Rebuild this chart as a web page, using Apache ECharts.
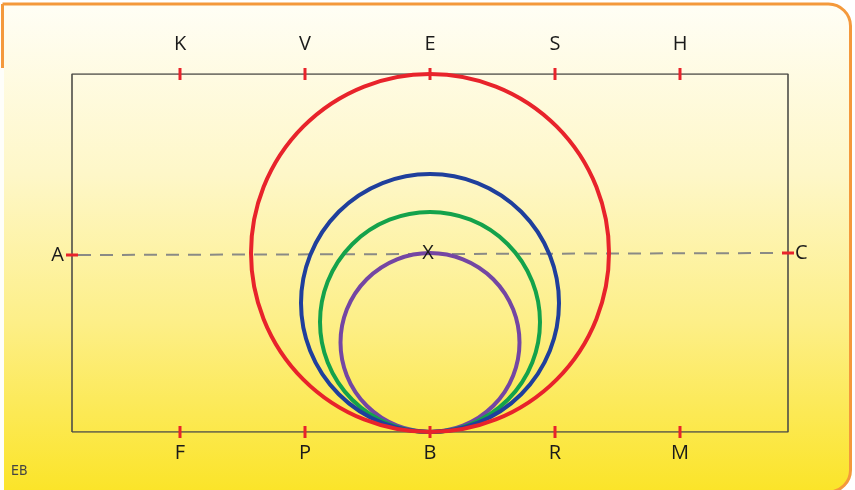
<!DOCTYPE html>
<html>
<head>
<meta charset="utf-8">
<script src="https://cdn.jsdelivr.net/npm/echarts@6/dist/echarts.min.js"></script>
<style>html,body{margin:0;padding:0;background:#fff}#c{width:855px;height:490px}</style>
</head>
<body>
<div id="c"></div>
<script>
// ---- data (geometry units: rectangle is 716 x 358) ----
const rectX = [-358, 358];
const rectY = [0, 358];
const tickX = [-250, -125, 0, 125, 250];
const topLabels = ['K', 'V', 'E', 'S', 'H'];
const bottomLabels = ['F', 'P', 'B', 'R', 'M'];
const circleNames = ['purple', 'green', 'blue', 'red'];
const circleRadius = [89.5, 110, 129, 179];
const circleColors = ['#7446a3', '#14a24b', '#1f3f9c', '#e8232b'];
const sideLabels = ['A', 'C'];
const sidePointY = [177, 179];
const centerLabel = 'X';
const centerPoint = [0, 179];

const FONT = '"Open Sans", "DejaVu Sans", sans-serif';
const RED = '#e8232b';

const chart = echarts.init(document.getElementById('c'), null, {renderer: 'canvas'});

const rectData = [
  [rectX[0], rectY[0]], [rectX[1], rectY[0]], [rectX[1], rectY[1]],
  [rectX[0], rectY[1]], [rectX[0], rectY[0]]
];

const tickData = [];
tickX.forEach((x, i) => {
  tickData.push([x, rectY[1], topLabels[i], 'top']);
  tickData.push([x, rectY[0], bottomLabels[i], 'bottom']);
});
const sideData = [
  [rectX[0], sidePointY[0], sideLabels[0], 'left'],
  [rectX[1], sidePointY[1], sideLabels[1], 'right']
];

const circleSeries = circleNames.map((n, i) => ({
  type: 'custom',
  name: n,
  coordinateSystem: 'cartesian2d',
  data: [[0, circleRadius[i], circleRadius[i]]],
  z: 5 + i,
  silent: true,
  renderItem: function (params, api) {
    const c = api.coord([api.value(0), api.value(1)]);
    const r = api.size([api.value(2), 0])[0];
    return {
      type: 'circle',
      shape: {cx: c[0], cy: c[1], r: r},
      style: {fill: 'none', stroke: circleColors[i], lineWidth: 4}
    };
  }
}));

const option = {
  animation: false,
  backgroundColor: 'transparent',
  graphic: [
    {
      type: 'rect', z: -10, silent: true,
      shape: {x: 2.5, y: 4, width: 848, height: 488, r: [0, 22, 22, 0]},
      style: {
        fill: new echarts.graphic.LinearGradient(0, 0, 0, 1, [
          {offset: 0, color: '#fffef6'},
          {offset: 0.35, color: '#fef7c8'},
          {offset: 0.65, color: '#fdef88'},
          {offset: 1, color: '#fbe427'}
        ]),
        stroke: '#f4993c', lineWidth: 3
      }
    },
    {
      type: 'rect', z: -9, silent: true,
      shape: {x: 0, y: 68, width: 4, height: 422},
      style: {fill: '#fefefa'}
    },
    {
      type: 'text', z: 10, silent: true,
      style: {x: 11, y: 471, text: 'EB', font: '14px "Liberation Sans Narrow", "DejaVu Sans Condensed", sans-serif', fill: '#444', verticalAlign: 'middle'}
    }
  ],
  grid: {left: 72, right: 67, top: 74, bottom: 58, show: false},
  xAxis: {type: 'value', min: rectX[0], max: rectX[1], show: false},
  yAxis: {type: 'value', min: rectY[0], max: rectY[1], show: false},
  series: [
    {
      type: 'line', name: 'frame', data: rectData, symbol: 'none', silent: true, z: 2,
      lineStyle: {color: '#4d4d48', width: 1.6}
    },
    {
      type: 'line', name: 'AC', silent: true, z: 3, symbol: 'none',
      data: [[rectX[0] + 6, sidePointY[0]], [rectX[1] - 6, sidePointY[1]]],
      lineStyle: {color: '#8a8a85', width: 2, type: [13, 9]}
    },
    ...circleSeries,
    {
      type: 'custom', name: 'ticks', coordinateSystem: 'cartesian2d', data: tickData, z: 20, silent: true,
      renderItem: function (params, api) {
        const p = api.coord([api.value(0), api.value(1)]);
        const d = tickData[params.dataIndex];
        const isTop = d[3] === 'top';
        return {
          type: 'group',
          children: [
            {type: 'rect', shape: {x: p[0] - 1.5, y: p[1] - 6, width: 3, height: 12}, style: {fill: RED}},
            {type: 'text', style: {x: p[0], y: isTop ? p[1] - 30 : p[1] + 21, text: d[2], font: '20px ' + FONT, fill: '#1a1a1a', align: 'center', verticalAlign: 'middle'}}
          ]
        };
      }
    },
    {
      type: 'custom', name: 'sides', coordinateSystem: 'cartesian2d', data: sideData, z: 20, silent: true,
      renderItem: function (params, api) {
        const p = api.coord([api.value(0), api.value(1)]);
        const d = sideData[params.dataIndex];
        const left = d[3] === 'left';
        return {
          type: 'group',
          children: [
            {type: 'rect', shape: {x: p[0] - 6, y: p[1] - 1.5, width: 12, height: 3}, style: {fill: RED}},
            {type: 'text', style: {x: left ? p[0] - 8 : p[0] + 7, y: p[1], text: d[2], font: '20px ' + FONT, fill: '#1a1a1a', align: left ? 'right' : 'left', verticalAlign: 'middle'}}
          ]
        };
      }
    },
    {
      type: 'custom', name: 'X', coordinateSystem: 'cartesian2d', data: [centerPoint], z: 30, silent: true,
      renderItem: function (params, api) {
        const p = api.coord([api.value(0), api.value(1)]);
        return {type: 'text', style: {x: p[0] - 2, y: p[1], text: centerLabel, font: '20px ' + FONT, fill: '#1a1a1a', align: 'center', verticalAlign: 'middle'}};
      }
    }
  ]
};
chart.setOption(option);
</script>
</body>
</html>
